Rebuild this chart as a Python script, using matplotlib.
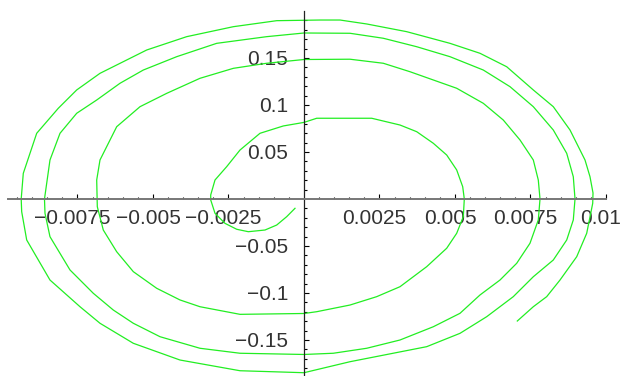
#!/usr/bin/env python3

import numpy as np
import matplotlib
matplotlib.use("Agg")
import matplotlib.pyplot as plt
from matplotlib.transforms import ScaledTranslation

# trajectory, x in units of 1e-3
x_milli = [
    -0.298, -0.573, -0.904, -1.291, -1.844, -2.228, -2.616, -2.947, -3.089, -3.089,
    -2.947, -2.560, -2.119, -1.457, -0.685, 0.0, 0.421, 2.242, 3.179, 3.732,
    4.281, 4.725, 5.056, 5.255, 5.308, 5.275, 5.056, 4.725, 4.063, 3.179,
    2.407, 1.523, 0.421, 0.0, -2.119, -3.444, -4.106, -4.877, -5.652, -6.202,
    -6.646, -6.844, -6.864, -6.755, -6.202, -5.430, -4.546, -3.444, -2.341, -1.235,
    0.0, 1.523, 2.626, 3.510, 4.281, 5.056, 5.937, 6.599, 7.152, 7.593,
    7.758, 7.815, 7.758, 7.483, 7.043, 6.490, 5.828, 5.166, 4.281, 3.179,
    2.076, 0.970, 0.0, -2.119, -3.444, -4.768, -5.652, -6.315, -6.977, -7.748,
    -8.411, -8.576, -8.593, -8.411, -8.079, -7.526, -6.864, -6.093, -5.321, -4.215,
    -2.891, -1.235, 0.0, 1.523, 2.626, 3.732, 4.834, 5.937, 6.821, 7.593,
    8.255, 8.699, 8.917, 8.974, 8.917, 8.699, 8.255, 7.593, 6.930, 6.050,
    5.166, 4.063, 2.957, 1.523, 0.0, -2.119, -4.106, -5.652, -6.755, -7.417,
    -8.411, -9.182, -9.348, -9.364, -9.295, -8.851, -8.136, -7.526, -6.755, -5.871,
    -5.209, -3.884, -2.341, -0.904, 0.530, 1.192, 2.076, 3.401, 4.834, 5.828,
    6.712, 7.593, 8.255, 8.808, 9.305, 9.470, 9.570, 9.560, 9.361, 9.030,
    8.477, 8.036, 7.593, 7.063,
]
y_vals = [
    -0.0099, -0.0188, -0.0277, -0.0330, -0.0348, -0.0322, -0.0259, -0.0152, -0.0010, 0.0043,
    0.0202, 0.0344, 0.0521, 0.0699, 0.0777, 0.0815, 0.0859, 0.0859, 0.0787, 0.0716,
    0.0593, 0.0468, 0.0309, 0.0131, 0.0, -0.0188, -0.0365, -0.0524, -0.0720, -0.0933,
    -0.1039, -0.1128, -0.1199, -0.1218, -0.1227, -0.1146, -0.1074, -0.0950, -0.0773, -0.0561,
    -0.0330, -0.0082, 0.0202, 0.0415, 0.0769, 0.0982, 0.1124, 0.1284, 0.1390, 0.1444,
    0.1484, 0.1487, 0.1444, 0.1354, 0.1266, 0.1178, 0.1018, 0.0840, 0.0628, 0.0415,
    0.0202, 0.0, -0.0223, -0.0471, -0.0684, -0.0862, -0.1021, -0.1216, -0.1359, -0.1500,
    -0.1588, -0.1641, -0.1654, -0.1641, -0.1588, -0.1465, -0.1322, -0.1181, -0.1003, -0.0755,
    -0.0401, -0.0152, 0.0, 0.0415, 0.0699, 0.0912, 0.1053, 0.1231, 0.1372, 0.1514,
    0.1656, 0.1727, 0.1766, 0.1763, 0.1710, 0.1620, 0.1514, 0.1372, 0.1195, 0.0982,
    0.0734, 0.0486, 0.0237, 0.0, -0.0223, -0.0436, -0.0649, -0.0827, -0.1039, -0.1252,
    -0.1429, -0.1571, -0.1641, -0.1731, -0.1848, -0.1827, -0.1713, -0.1535, -0.1322, -0.1146,
    -0.0862, -0.0436, -0.0135, 0.0, 0.0273, 0.0699, 0.0965, 0.1160, 0.1337, 0.1479,
    0.1585, 0.1727, 0.1833, 0.1897, 0.1904, 0.1904, 0.1862, 0.1780, 0.1656, 0.1550,
    0.1407, 0.1160, 0.0982, 0.0734, 0.0415, 0.0237, 0.0064, -0.0046, -0.0365, -0.0614,
    -0.0862, -0.1039, -0.1146, -0.1298,
]

# tick values and labels
xticks = [-0.0075, -0.005, -0.0025, 0.0025, 0.005, 0.0075, 0.01]
xlabels = ["\u22120.0075", "\u22120.005", "\u22120.0025", "0.0025", "0.005", "0.0075", "0.01"]
yticks = [-0.15, -0.1, -0.05, 0.05, 0.1, 0.15]
ylabels = ["\u22120.15", "\u22120.1", "\u22120.05", "0.05", "0.1", "0.15"]

plt.rcParams['font.family'] = ['Liberation Sans', 'DejaVu Sans']

fig = plt.figure(figsize=(6.24, 3.76), dpi=100)
ax = fig.add_axes([0, 0, 1, 1])
ax.patch.set_visible(False)

x = np.array(x_milli) * 1e-3
ax.plot(x, y_vals, color='#22ee22', lw=0.9)

ax.set_xlim(-0.010066, 0.010596)
ax.set_ylim(-0.1883, 0.2117)

# axes crossing at the origin
for side in ['top', 'right']:
    ax.spines[side].set_visible(False)
ax.spines['bottom'].set_position(('data', 0))
ax.spines['left'].set_position(('data', 0))
ax.spines['bottom'].set_bounds(-0.0098, 0.01)
ax.spines['left'].set_bounds(-0.19, 0.2)
ax.spines['bottom'].set_color('#777777')
ax.spines['bottom'].set_linewidth(1.4)
ax.spines['left'].set_color('#222222')
ax.spines['left'].set_linewidth(0.9)

ax.set_xticks(xticks)
ax.set_xticklabels(xlabels)
ax.set_yticks(yticks)
ax.set_yticklabels(ylabels)
xminor = [v for v in np.round(np.arange(-0.0095, 0.01001, 0.0005), 5) if v != 0 and v not in xticks]
yminor = [v for v in np.round(np.arange(-0.18, 0.1901, 0.01), 3) if v != 0 and v not in yticks]
ax.set_xticks(xminor, minor=True)
ax.set_yticks(yminor, minor=True)

ax.tick_params(axis='both', which='both', direction='in', color='black', width=0.8,
               labelsize=15, labelcolor='#333333')
ax.tick_params(axis='x', which='major', length=3.5, pad=7)
ax.tick_params(axis='x', which='minor', length=1.8)
ax.tick_params(axis='y', which='major', length=3.5, pad=11.5)
ax.tick_params(axis='y', which='minor', length=2)

shift = ScaledTranslation(-5 / 100, 0, fig.dpi_scale_trans)
for lab in ax.get_xticklabels():
    lab.set_transform(lab.get_transform() + shift)

fig.savefig("out.png", dpi=100)
